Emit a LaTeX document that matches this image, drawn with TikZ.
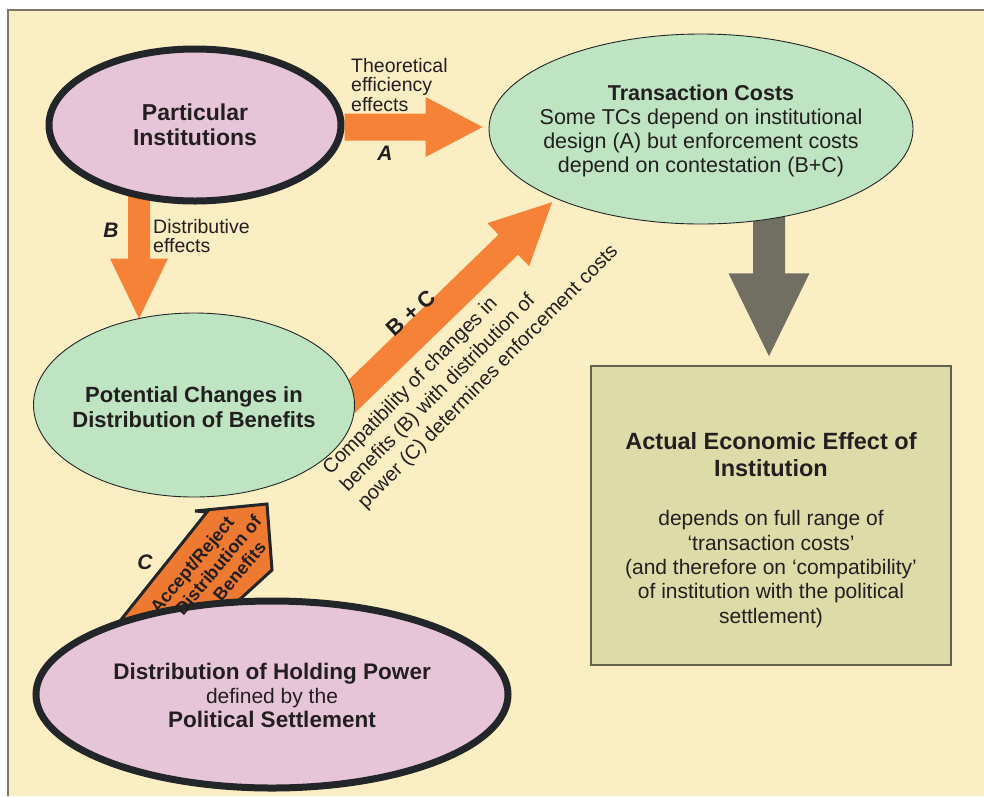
\documentclass[tikz,border=0pt]{standalone}
\usepackage{fontspec}
\setmainfont{Liberation Sans}
\usetikzlibrary{shapes.geometric,calc}

\pgfdeclarelayer{paper}
\pgfdeclarelayer{arrowlayer}
\pgfsetlayers{paper,arrowlayer,main}

\definecolor{cream}{RGB}{252,238,195}
\definecolor{frameline}{RGB}{125,118,105}
\definecolor{ink}{RGB}{35,31,32}
\definecolor{rim}{RGB}{35,38,40}
\definecolor{pinkfill}{RGB}{231,197,216}
\definecolor{greenfill}{RGB}{190,228,193}
\definecolor{boxfill}{RGB}{221,219,168}
\definecolor{boxline}{RGB}{100,96,80}
\definecolor{orangearrow}{RGB}{245,130,55}
\definecolor{orangeblock}{RGB}{238,122,50}
\definecolor{grayarrow}{RGB}{113,111,98}

% Block arrow: #2 start, #3 tip, #4 half shaft width, #5 head length, #6 half head width
\newcommand\blockarrow[6][]{%
  \coordinate (ba-h) at ($(#3)!#5!(#2)$);
  \fill[#1] ($(#2)!#4!90:(#3)$) -- ($(ba-h)!#4!90:(#3)$) -- ($(ba-h)!#6!90:(#3)$)
    -- (#3) -- ($(ba-h)!#6!-90:(#3)$) -- ($(ba-h)!#4!-90:(#3)$)
    -- ($(#2)!#4!-90:(#3)$) -- cycle;}

\begin{document}
\begin{tikzpicture}[x=1pt,y=-1pt,
  txt/.style={text=ink, inner sep=0pt},
  thickoval/.style={ellipse, draw=rim, line width=7pt, fill=pinkfill, inner sep=0pt},
  thinoval/.style={ellipse, draw=rim, line width=0.9pt, fill=greenfill, inner sep=0pt},
  letter/.style={txt, font=\fontsize{21}{21}\selectfont\bfseries\itshape}]

\useasboundingbox (0,0) rectangle (984,796);

% paper
\begin{pgfonlayer}{paper}
  \fill[cream] (8,10) rectangle (984,796);
  \draw[frameline, line width=1.5pt] (8,796) -- (8,10) -- (984,10);
\end{pgfonlayer}

% ovals and box
\node[thickoval, minimum width=292pt, minimum height=152pt] (pi) at (195,125) {};
\node[txt, align=center, font=\fontsize{23}{25}\selectfont\bfseries] (pi-text) at (pi.center) {Particular\\Institutions};

\node[thinoval, minimum width=424pt, minimum height=190pt] (tc) at (701,129) {};
\node[txt, align=center, font=\fontsize{21.5}{24}\selectfont] (tc-text) at ([yshift=-2pt]tc.center)
  {{\bfseries Transaction Costs}\\Some TCs depend on institutional\\design (A) but enforcement costs\\depend on contestation (B+C)};

\node[thinoval, minimum width=321pt, minimum height=184pt] (pc) at (194,405) {};
\node[txt, align=center, font=\fontsize{22}{25}\selectfont\bfseries] (pc-text) at ([yshift=-2pt]pc.center)
  {Potential Changes in\\Distribution of Benefits};

\node[draw=boxline, fill=boxfill, line width=1.5pt, minimum width=360pt, minimum height=299pt, inner sep=0pt] (effect) at (771,515.5) {};
\node[txt, align=center, font=\fontsize{23.5}{27}\selectfont\bfseries] (effect-title) at (771,455)
  {Actual Economic Effect of\\Institution};
\node[txt, align=center, font=\fontsize{21}{24.3}\selectfont] (effect-body) at (771,569)
  {depends on full range of\\‘transaction costs’\\(and therefore on ‘compatibility’\\of institution with the political\\settlement)};

% C: accept / reject block arrow, its foot hidden by the lower oval
\begin{pgfonlayer}{arrowlayer}
  \coordinate (c1) at (108,636);
  \coordinate (c2) at (207,512);
  \coordinate (c3) at (195,511);
  \coordinate (c4) at (267,504);
  \coordinate (c5) at (272,570);
  \coordinate (c6) at (226,612);
  \filldraw[fill=orangeblock, draw=rim, line width=3pt, line join=miter]
    (c1) -- (c2) -- (c3) -- (c4) -- (c5) -- (c6) -- cycle;
\end{pgfonlayer}

\node[thickoval, minimum width=472pt, minimum height=187pt] (hp) at (272,694.5) {};
\node[txt, align=center, font=\fontsize{22.5}{24}\selectfont] (hp-text) at ([yshift=-1pt]hp.center)
  {{\bfseries Distribution of Holding Power}\\{\fontsize{21}{24}\selectfont defined by the}\\{\bfseries Political Settlement}};

% lines of the C arrow text are staggered along the arrow
\node[txt, rotate=50, align=center, font=\fontsize{18}{20.3}\selectfont\bfseries] (c-text) at (218,565)
  {Accept/Reject\rule{33pt}{0pt}\\Distribution of\\\rule{18pt}{0pt}Benefits};

% connectors
\coordinate (aS) at ([yshift=-2pt]pi.east);
\path (aS -| tc.west) ++(-6,0) coordinate (aT);
\path (pi.center) ++(-56,70) coordinate (bS);
\path (bS |- pc.north) ++(0,6) coordinate (bT);
\path (pc.east) ++(-10,-2) coordinate (bcS);
\path (tc.206) ++(-5,3) coordinate (bcT);
\path (tc.center) ++(68,80) coordinate (gS);
\path (gS |- effect.north) ++(0,-9) coordinate (gT);

\begin{pgfonlayer}{arrowlayer}
  \blockarrow[orangearrow]{aS}{aT}{13.5pt}{57pt}{30pt}
  \blockarrow[orangearrow]{bS}{bT}{11pt}{60pt}{29pt}
  \blockarrow[orangearrow]{bcS}{bcT}{14pt}{61pt}{30pt}
  \blockarrow[grayarrow]{gS}{gT}{16pt}{83pt}{40.5pt}
\end{pgfonlayer}

% labels
\node[txt, anchor=west, align=left, font=\fontsize{19.5}{19.5}\selectfont] (a-note) at (351,85)
  {Theoretical\\efficiency\\effects};
\node[letter] (a-label) at (385,153) {A};

\node[txt, anchor=west, align=left, font=\fontsize{19.5}{19}\selectfont] (b-note) at (153,236)
  {Distributive\\effects};
\node[letter] (b-label) at (111,230) {B};

\node[txt, rotate=42, font=\fontsize{22}{22}\selectfont\bfseries] (bc-label) at (411,313) {B + C};
\node[txt, rotate=45.5, align=left, font=\fontsize{20}{24.5}\selectfont] (bc-note) at (471,360)
  {Compatibility of changes in\\benefits (B) with distribution of\\power (C) determines enforcement costs};

\node[letter] (c-label) at (145,562) {C};

\end{tikzpicture}
\end{document}
